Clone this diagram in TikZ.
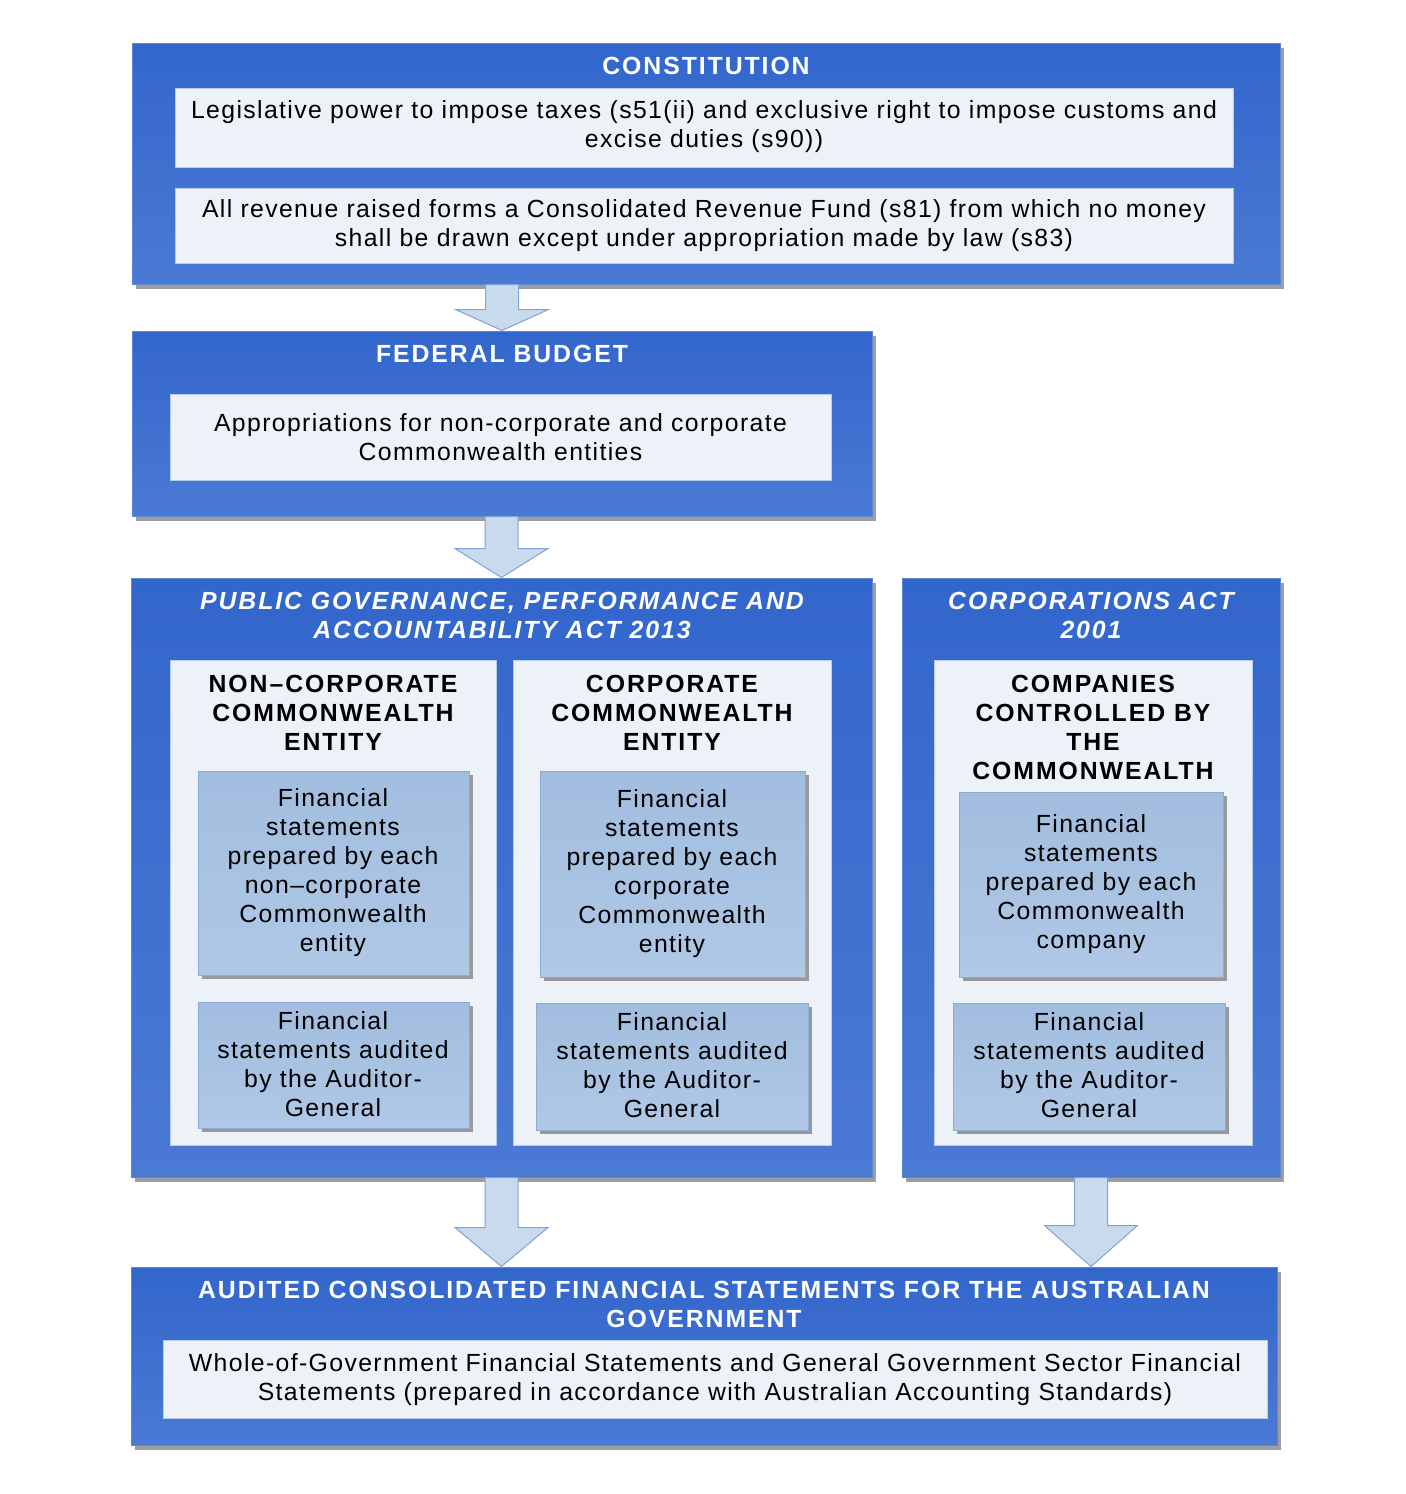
\documentclass[tikz,border=0pt]{standalone}
\usepackage{fontspec}
\setmainfont{Liberation Sans}[LetterSpace=5.5, BoldFeatures={LetterSpace=7.8}, BoldItalicFeatures={LetterSpace=7.8}]
\usetikzlibrary{fit,shadows,calc}
\definecolor{outtop}{HTML}{3366CC}
\definecolor{outbot}{HTML}{4A7AD4}
\definecolor{outline}{HTML}{5B86D6}
\definecolor{lightbox}{HTML}{EDF1F8}
\definecolor{lightline}{HTML}{B9CBEA}
\definecolor{subtop}{HTML}{A2BDDF}
\definecolor{subbot}{HTML}{B0C8E6}
\definecolor{subline}{HTML}{8CACD8}
\definecolor{arrfill}{HTML}{C9DAEC}
\definecolor{arrline}{HTML}{7EA3D6}
\tikzset{
  outerbox/.style={rectangle, inner sep=0pt, draw=outline, line width=0.5pt,
    top color=outtop, bottom color=outbot,
    drop shadow={shadow xshift=2pt, shadow yshift=-2.5pt, fill=black!38, opacity=1}},
  lightbx/.style={rectangle, inner sep=0pt, draw=lightline, line width=0.4pt, fill=lightbox},
  subbx/.style={rectangle, inner sep=0pt, draw=subline, line width=0.5pt,
    top color=subtop, bottom color=subbot,
    drop shadow={shadow xshift=1.8pt, shadow yshift=-1.8pt, fill=black!40, opacity=1}},
  txt/.style={align=center, inner sep=0pt, yshift=-0.6pt, font=\fontsize{12.4}{14.5}\selectfont},
  wtitle/.style={txt, text=white, font=\fontsize{12.4}{14.5}\selectfont\bfseries},
  witalic/.style={txt, text=white, font=\fontsize{12.4}{14.5}\selectfont\bfseries\itshape},
  bhead/.style={txt, text=black, font=\fontsize{12.4}{14.5}\selectfont\bfseries},
  arr/.style={draw=arrline, line width=0.5pt, fill=arrfill, line join=miter},
}
% #1 source, #2 target, #3 node giving the x position, #4 head length
\newcommand\blockarr[4]{%
  \draw[arr] let \p1=(#2.north), \p2=(#1.south), \p3=(#3.center) in
   (\x3-8.25pt,\y2) -- (\x3+8.25pt,\y2) -- (\x3+8.25pt,\y1+#4) -- (\x3+23.25pt,\y1+#4)
   -- (\x3,\y1) -- (\x3-23.25pt,\y1+#4) -- (\x3-8.25pt,\y1+#4) -- cycle;}
\begin{document}
\begin{tikzpicture}[x=0.5pt,y=-0.5pt]
\useasboundingbox (0,0) rectangle (1405,1494);
% Constitution
\node[outerbox, fit={(132,43) (1280,284)}] (const) {};
\node[wtitle] (constT) at (706,65) {CONSTITUTION};
\node[lightbx, fit={(175,88) (1233,167)}] (c1) {};
\node[txt] (c1t) at (704,125.5) {Legislative power to impose taxes (s51(ii) and exclusive right to impose customs and\\excise duties (s90))};
\node[lightbx, fit={(175,188) (1233,263)}] (c2) {};
\node[txt] (c2t) at (704,224) {All revenue raised forms a Consolidated Revenue Fund (s81) from which no money\\shall be drawn except under appropriation made by law (s83)};
% Federal budget
\node[outerbox, fit={(132,331) (872,516)}] (budget) {};
\node[wtitle] (budgetT) at (502,353) {FEDERAL BUDGET};
\node[lightbx, fit={(170,394) (831,480)}] (b1) {};
\node[txt] (b1t) at (500.5,435.5) {Appropriations for non-corporate and corporate\\Commonwealth entities};
% PGPA
\node[outerbox, fit={(131,578) (872,1177)}] (pgpa) {};
\node[witalic] (pgpaT) at (502,614.5) {PUBLIC GOVERNANCE, PERFORMANCE AND\\ACCOUNTABILITY ACT 2013};
\node[lightbx, fit={(170,660) (496,1145)}] (ncce) {};
\node[bhead] (nccheadT) at (333,712) {NON--CORPORATE\\COMMONWEALTH\\ENTITY};
\node[subbx, fit={(198,771) (469,975)}] (s1) {};
\node[txt] (s1t) at (333,871) {Financial\\statements\\prepared by each\\non--corporate\\Commonwealth\\entity};
\node[subbx, fit={(198,1002) (469,1128)}] (s2) {};
\node[txt] (s2t) at (333,1062.5) {Financial\\statements audited\\by the Auditor-\\General};
\node[lightbx, fit={(513,660) (831,1145)}] (cce) {};
\node[bhead] (ccheadT) at (672,712) {CORPORATE\\COMMONWEALTH\\ENTITY};
\node[subbx, fit={(540,771) (805,977)}] (s3) {};
\node[txt] (s3t) at (672,872) {Financial\\statements\\prepared by each\\corporate\\Commonwealth\\entity};
\node[subbx, fit={(536,1003) (808,1130)}] (s4) {};
\node[txt] (s4t) at (672,1064) {Financial\\statements audited\\by the Auditor-\\General};
% Corporations Act
\node[outerbox, fit={(902,578) (1280,1177)}] (corp) {};
\node[witalic] (corpT) at (1091,614.5) {CORPORATIONS ACT\\2001};
\node[lightbx, fit={(934,660) (1252,1145)}] (comp) {};
\node[bhead] (compheadT) at (1093,726.5) {COMPANIES\\CONTROLLED BY\\THE\\COMMONWEALTH};
\node[subbx, fit={(959,792) (1223,977)}] (s5) {};
\node[txt] (s5t) at (1091,882.5) {Financial\\statements\\prepared by each\\Commonwealth\\company};
\node[subbx, fit={(953,1003) (1225,1130)}] (s6) {};
\node[txt] (s6t) at (1089,1064) {Financial\\statements audited\\by the Auditor-\\General};
% Bottom
\node[outerbox, fit={(131,1267) (1277,1445)}] (acfs) {};
\node[wtitle] (acfsT) at (704,1303.5) {AUDITED CONSOLIDATED FINANCIAL STATEMENTS FOR THE AUSTRALIAN\\GOVERNMENT};
\node[lightbx, fit={(163,1340) (1267,1418)}] (w1) {};
\node[txt] (w1t) at (715,1378.5) {Whole-of-Government Financial Statements and General Government Sector Financial\\Statements (prepared in accordance with Australian Accounting Standards)};
% Arrows
\blockarr{const}{budget}{budget}{10.5pt}
\blockarr{budget}{pgpa}{pgpa}{14.5pt}
\blockarr{pgpa}{acfs}{pgpa}{19.5pt}
\blockarr{corp}{acfs}{corp}{20.5pt}
\end{tikzpicture}
\end{document}
